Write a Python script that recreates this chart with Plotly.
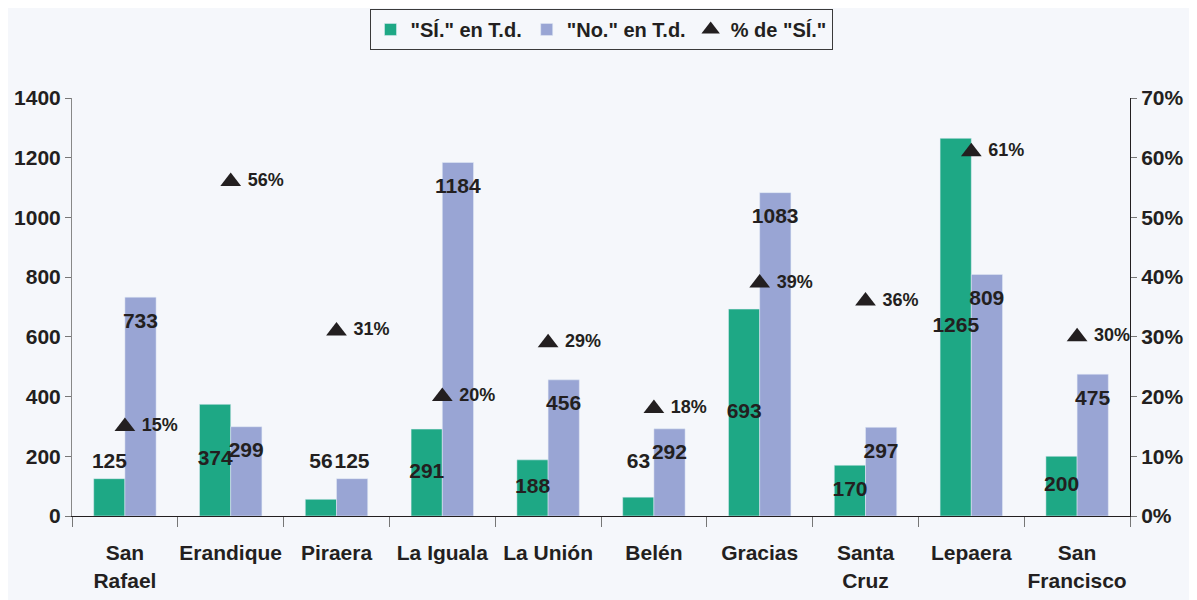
import plotly.graph_objects as go

categories = ["San<br>Rafael", "Erandique", "Piraera", "La Iguala", "La Unión",
              "Belén", "Gracias", "Santa<br>Cruz", "Lepaera", "San<br>Francisco"]
si_values = [125, 374, 56, 291, 188, 63, 693, 170, 1265, 200]
no_values = [733, 299, 125, 1184, 456, 292, 1083, 297, 809, 475]
pct_si = [0.15, 0.56, 0.31, 0.20, 0.29, 0.18, 0.39, 0.36, 0.61, 0.30]

GREEN = "#1ea885"
BLUE = "#99a5d4"
DARK = "#231f20"
BG = "#f5f7fb"
FONT = "Liberation Sans, Arial, sans-serif"

idx = list(range(len(categories)))
bar_w = 0.293

fig = go.Figure()
fig.add_trace(go.Bar(x=categories, y=si_values, name='"SÍ." en T.d.',
                     marker_color=GREEN, hoverinfo="skip"))
fig.add_trace(go.Bar(x=categories, y=no_values, name='"No." en T.d.',
                     marker_color=BLUE, hoverinfo="skip"))

# value labels (overlay numeric x axis aligned with category positions)
si_label_y = [v / 2 if v >= 150 else 180 for v in si_values]
no_label_y = [max(v - 85, 180) for v in no_values]
fig.add_trace(go.Scatter(x=[i - bar_w / 2 for i in idx], y=si_label_y, mode="text",
                         text=[str(v) for v in si_values], xaxis="x2", yaxis="y",
                         textfont=dict(size=21, color=DARK, family=FONT, weight="bold"),
                         showlegend=False, cliponaxis=False, hoverinfo="skip"))
fig.add_trace(go.Scatter(x=[i + bar_w / 2 for i in idx], y=no_label_y, mode="text",
                         text=[str(v) for v in no_values], xaxis="x2", yaxis="y",
                         textfont=dict(size=21, color=DARK, family=FONT, weight="bold"),
                         showlegend=False, cliponaxis=False, hoverinfo="skip"))

# percentage markers
fig.add_trace(go.Scatter(x=idx, y=pct_si, mode="markers", name='% de "SÍ."',
                         xaxis="x2", yaxis="y2",
                         marker=dict(symbol="triangle-up", size=18, color=DARK),
                         cliponaxis=False, hoverinfo="skip"))
fig.add_trace(go.Scatter(x=[i + 0.16 for i in idx], y=pct_si, mode="text",
                         text=[f"{round(p*100)}%" for p in pct_si],
                         textposition="middle right", xaxis="x2", yaxis="y2",
                         textfont=dict(size=18, color=DARK, family=FONT, weight="bold"),
                         showlegend=False, cliponaxis=False, hoverinfo="skip"))

fig.update_layout(
    width=1197, height=600,
    paper_bgcolor=BG, plot_bgcolor=BG,
    font=dict(family=FONT, size=20, color=DARK, weight="bold"),
    margin=dict(l=64, r=75, t=90, b=92, autoexpand=False),
    barmode="group", bargap=0.41, bargroupgap=0,
    showlegend=True,
    legend=dict(orientation="h", x=0.5, xanchor="center", y=1.213, yanchor="top",
                bgcolor=BG, bordercolor="#3a3a3a", borderwidth=1,
                font=dict(size=20, family=FONT, color=DARK, weight="bold"),
                itemwidth=30, traceorder="normal"),
    xaxis=dict(type="category", tickson="boundaries", ticks="outside", ticklen=10,
               tickcolor="#777", showline=True, linecolor=DARK, linewidth=1,
               showgrid=False, zeroline=False, ticklabelstandoff=18, tickangle=0,
               automargin=False,
               tickfont=dict(size=21, family=FONT, color=DARK, weight="bold")),
    xaxis2=dict(overlaying="x", range=[-0.5, 9.5], visible=False),
    yaxis=dict(range=[0, 1400], dtick=200, ticks="outside", ticklen=6,
               tickcolor="#777", showline=True, linecolor="#888", linewidth=1,
               showgrid=False, zeroline=False, automargin=False,
               tickfont=dict(size=21, family=FONT, color=DARK, weight="bold")),
    yaxis2=dict(overlaying="y", side="right", anchor="x", range=[0, 0.7], dtick=0.1,
                tickformat=".0%", ticks="outside", ticklen=6, tickcolor="#777",
                showline=True, linecolor=DARK, linewidth=1, showgrid=False,
                zeroline=False, automargin=False,
                tickfont=dict(size=21, family=FONT, color=DARK, weight="bold")),
)

fig.write_html("out.html")
